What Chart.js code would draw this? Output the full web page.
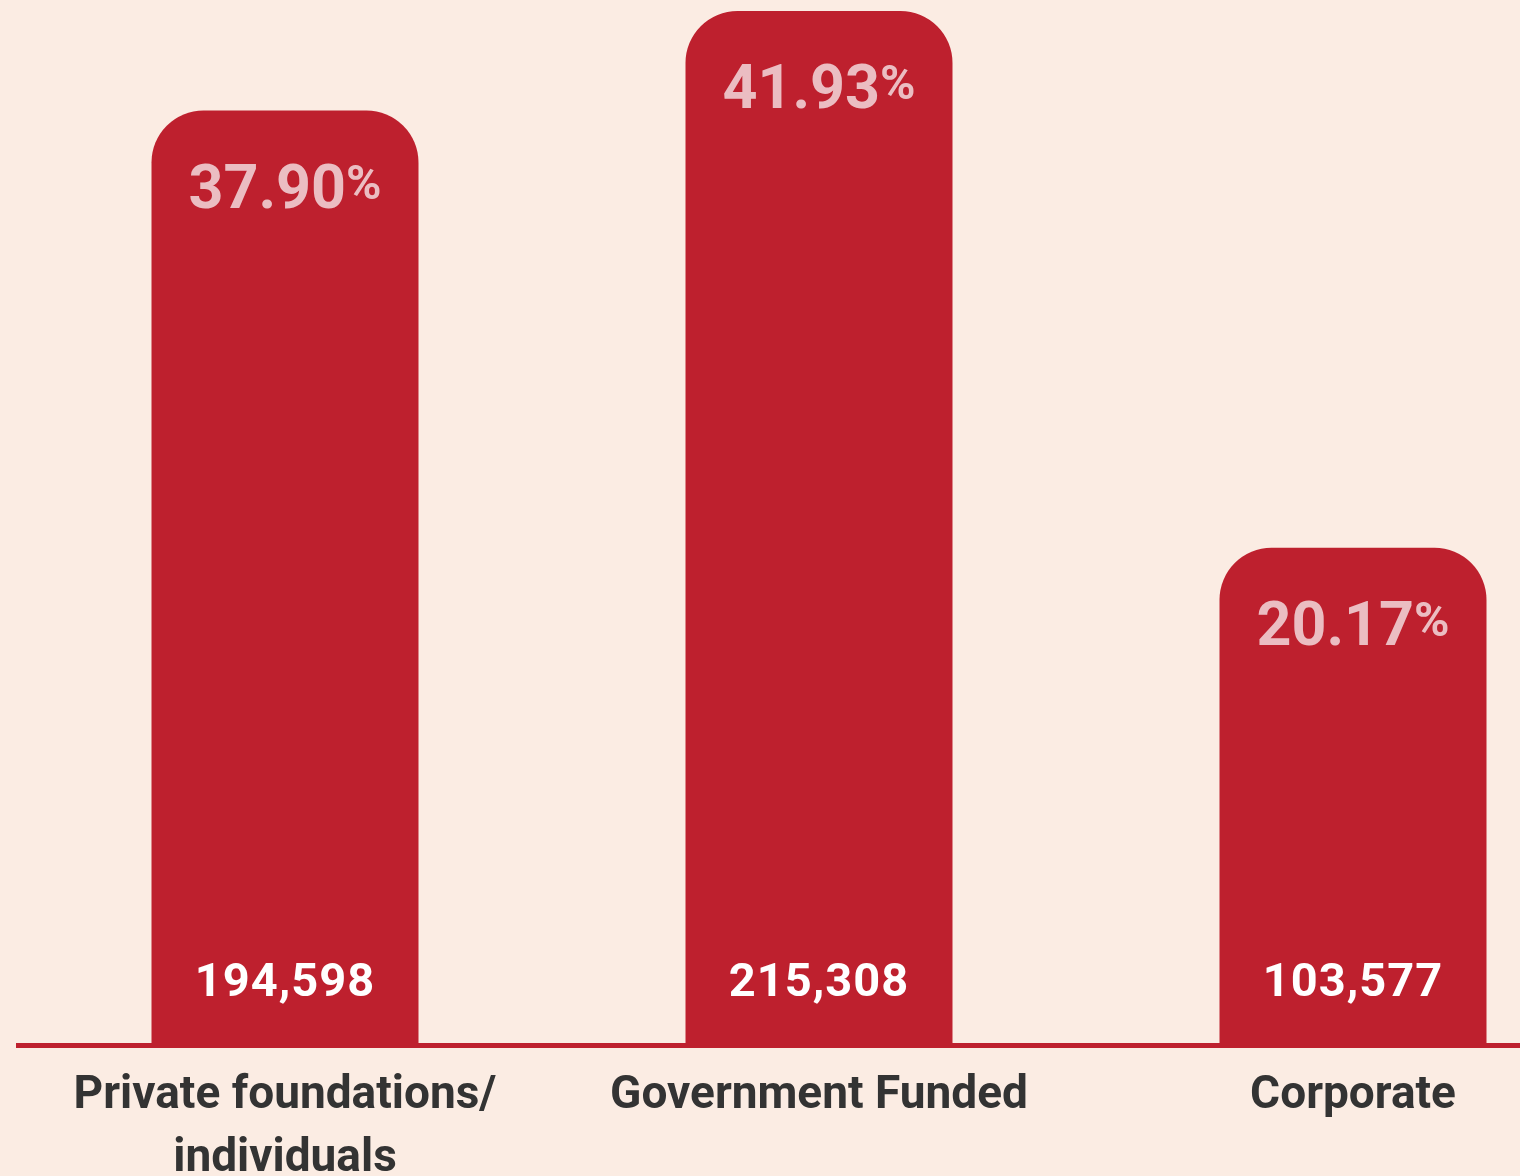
<!DOCTYPE html>
<html>
<head>
<meta charset="utf-8">
<script src="https://cdn.jsdelivr.net/npm/chart.js@4.4.1/dist/chart.umd.min.js"></script>
<style>
  html, body { margin:0; padding:0; background:#fbece3; overflow:hidden; }
  #wrap { position:absolute; left:0; top:0; width:1620px; height:1176px; }
</style>
</head>
<body>
<div id="wrap"><canvas id="chart" width="1620" height="1176"></canvas></div>
<script>
// funding sources
const categories = [['Private foundations/', 'individuals'], 'Government Funded', 'Corporate'];
const amounts = [194598, 215308, 103577];
const shares = ['37.90', '41.93', '20.17'];

const RED = '#be202e';
const FONT = 'Roboto, "DejaVu Sans", sans-serif';

// labels inside bars: share on top, amount at the bottom
const barLabels = {
  id: 'barLabels',
  afterDatasetsDraw(chart) {
    const ctx = chart.ctx;
    const meta = chart.getDatasetMeta(0);
    ctx.save();
    ctx.textBaseline = 'alphabetic';
    ctx.textAlign = 'left';
    meta.data.forEach((bar, i) => {
      // share
      ctx.fillStyle = '#ebbdc2';
      ctx.font = 'bold 61px ' + FONT;
      const num = shares[i];
      const wNum = ctx.measureText(num).width;
      ctx.font = 'bold 48px ' + FONT;
      const wPct = ctx.measureText('%').width;
      const x0 = bar.x - (wNum + wPct) / 2;
      const base = bar.y + 97;
      ctx.font = 'bold 61px ' + FONT;
      ctx.fillText(num, x0, base);
      ctx.font = 'bold 48px ' + FONT;
      ctx.fillText('%', x0 + wNum, base - 9);
      // amount
      ctx.fillStyle = '#ffffff';
      ctx.font = 'bold 47px ' + FONT;
      ctx.letterSpacing = '1px';
      ctx.textAlign = 'center';
      ctx.fillText(amounts[i].toLocaleString('en-US'), bar.x, bar.base - 50);
      ctx.letterSpacing = '0px';
      ctx.textAlign = 'left';
    });
    ctx.restore();
  }
};

new Chart(document.getElementById('chart'), {
  type: 'bar',
  data: {
    labels: categories,
    datasets: [{
      data: amounts,
      backgroundColor: RED,
      borderRadius: 52,
      borderSkipped: 'start',
      barPercentage: 0.5,
      categoryPercentage: 1
    }]
  },
  options: {
    responsive: false,
    animation: false,
    events: [],
    layout: { padding: { left: 18, right: 0, top: 0, bottom: 0 } },
    plugins: { legend: { display: false }, tooltip: { enabled: false } },
    scales: {
      x: {
        grid: { display: false },
        border: { display: true, color: RED, width: 5 },
        ticks: {
          color: '#333333',
          font: { family: FONT, size: 46, weight: 'bold', lineHeight: 1.37 },
          padding: 11,
          maxRotation: 0,
          autoSkip: false
        },
        afterFit: s => { s.height = 130.5; }
      },
      y: {
        display: false,
        min: 0,
        max: 217600
      }
    }
  },
  plugins: [barLabels]
});
</script>
</body>
</html>
